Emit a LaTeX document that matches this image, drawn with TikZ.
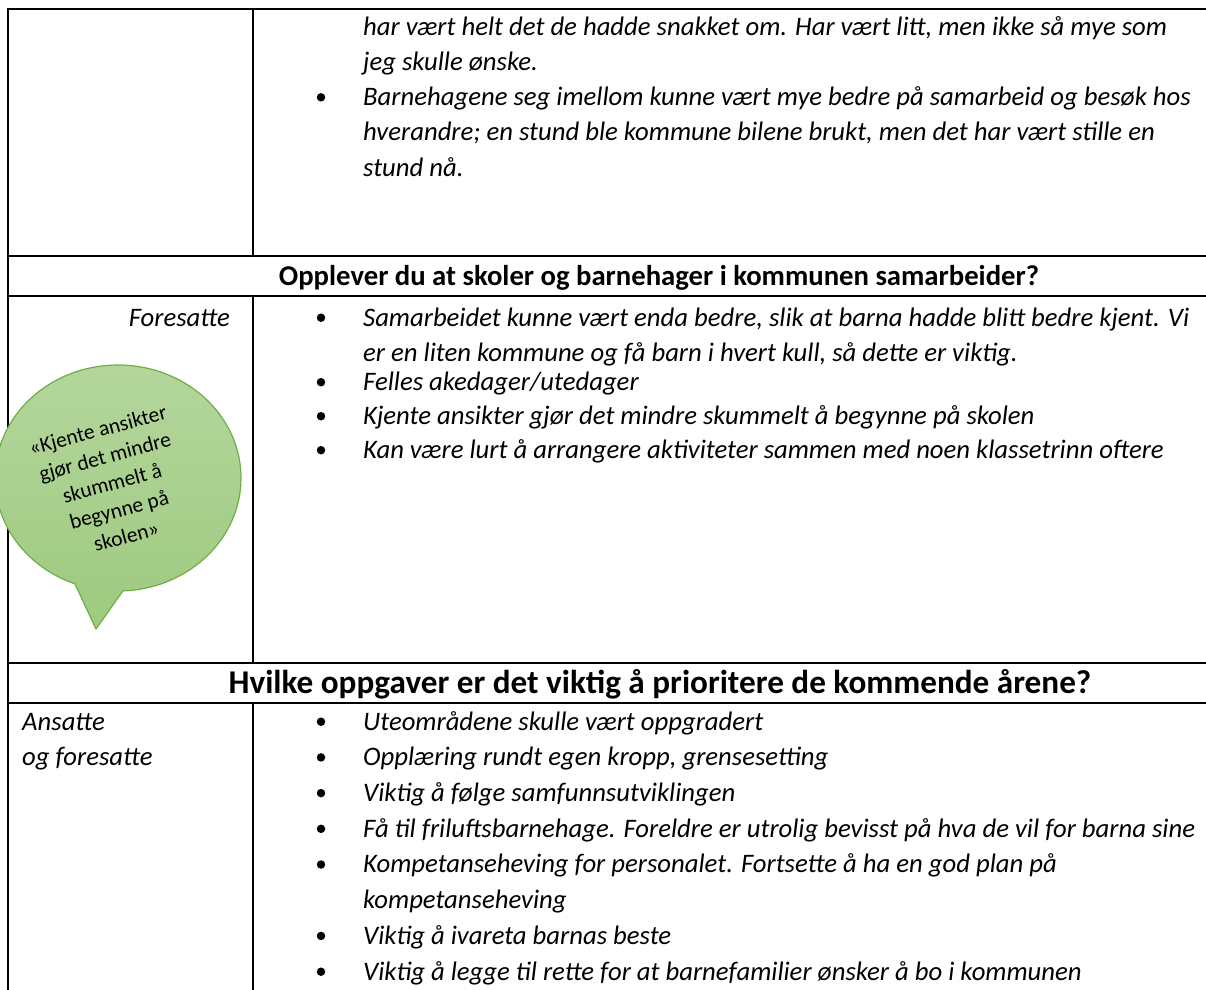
\documentclass[tikz,border=0pt]{standalone}
\usepackage{fontspec}
\setmainfont{Carlito}
\definecolor{bubtop}{RGB}{180,214,156}
\definecolor{bubbot}{RGB}{158,202,128}
\definecolor{bubline}{RGB}{112,173,71}
\begin{document}
\begin{tikzpicture}[x=1pt,y=-1pt,
  txt/.style={anchor=base west, inner sep=0pt, font=\fontsize{26.7}{35}\selectfont\itshape},
  txtr/.style={anchor=base east, inner sep=0pt, font=\fontsize{26.7}{35}\selectfont\itshape},
  hdr/.style={anchor=base, inner sep=0pt, font=\fontsize{28.7}{35}\selectfont\bfseries},
  hdrbig/.style={anchor=base, inner sep=0pt, font=\fontsize{33.2}{38}\selectfont\bfseries},
  bul/.style={circle, fill=black, inner sep=0pt, minimum size=8.5pt},
  grid/.style={line width=2.5pt, line cap=rect},
  bubble/.style={top color=bubtop, bottom color=bubbot, draw=bubline, line width=1.2pt, line join=round},
  bubtxt/.style={align=center, inner sep=0pt, rotate=15, font=\fontsize{21.5}{27.5}\selectfont}]
\useasboundingbox (0,0) rectangle (1206,989);
% table grid
\draw[grid] (8,9) -- (1210,9);
\draw[grid] (8,256) -- (1210,256);
\draw[grid] (8,296) -- (1210,296);
\draw[grid] (8,663) -- (1210,663);
\draw[grid] (8,703) -- (1210,703);
\draw[grid] (8,9) -- (8,995);
\draw[grid] (253,9) -- (253,256);
\draw[grid] (253,296) -- (253,663);
\draw[grid] (253,703) -- (253,995);
% row 1
\node[txt] (r1a) at (363,35) {har vært helt det de hadde snakket om. Har vært litt, men ikke så mye som};
\node[txt] (r1b) at (363,70.3) {jeg skulle ønske.};
\node[bul] (b1c) at (321,97.3) {};
\node[txt] (r1c) at (363,105.6) {Barnehagene seg imellom kunne vært mye bedre på samarbeid og besøk hos};
\node[txt] (r1d) at (363,140.9) {hverandre; en stund ble kommune bilene brukt, men det har vært stille en};
\node[txt] (r1e) at (363,176.2) {stund nå.};
% header 1
\node[hdr] (h1) at (659,285) {Opplever du at skoler og barnehager i kommunen samarbeider?};
% row 2
\node[txtr] (who2) at (230,326) {Foresatte};
\node[bul] (b2a) at (321,317.7) {};
\node[txt] (r2a) at (363,326) {Samarbeidet kunne vært enda bedre, slik at barna hadde blitt bedre kjent. Vi};
\node[txt] (r2b) at (363,361) {er en liten kommune og få barn i hvert kull, så dette er viktig.};
\node[bul] (b2c) at (321,382.2) {};
\node[txt] (r2c) at (363,390.5) {Felles akedager/utedager};
\node[bul] (b2d) at (321,416.2) {};
\node[txt] (r2d) at (363,424.5) {Kjente ansikter gjør det mindre skummelt å begynne på skolen};
\node[bul] (b2e) at (321,450.2) {};
\node[txt] (r2e) at (363,458.5) {Kan være lurt å arrangere aktiviteter sammen med noen klassetrinn oftere};
% header 2
\node[hdrbig] (h2) at (660,693.5) {Hvilke oppgaver er det viktig å prioritere de kommende årene?};
% row 3
\node[txt] (who3a) at (22,730) {Ansatte};
\node[txt] (who3b) at (22,765.7) {og foresatte};
\node[bul] (b3a) at (321,721.7) {};
\node[txt] (r3a) at (363,730) {Uteområdene skulle vært oppgradert};
\node[bul] (b3b) at (321,757.4) {};
\node[txt] (r3b) at (363,765.7) {Opplæring rundt egen kropp, grensesetting};
\node[bul] (b3c) at (321,793.1) {};
\node[txt] (r3c) at (363,801.4) {Viktig å følge samfunnsutviklingen};
\node[bul] (b3d) at (321,828.8) {};
\node[txt] (r3d) at (363,837.1) {Få til friluftsbarnehage. Foreldre er utrolig bevisst på hva de vil for barna sine};
\node[bul] (b3e) at (321,864.5) {};
\node[txt] (r3e) at (363,872.8) {Kompetanseheving for personalet. Fortsette å ha en god plan på};
\node[txt] (r3f) at (363,908.5) {kompetanseheving};
\node[bul] (b3g) at (321,935.9) {};
\node[txt] (r3g) at (363,944.2) {Viktig å ivareta barnas beste};
\node[bul] (b3h) at (321,971.7) {};
\node[txt] (r3h) at (363,980) {Viktig å legge til rette for at barnefamilier ønsker å bo i kommunen};
% speech bubble
\path[bubble] (118,478) ++(87.7:123 and 113)
  arc[start angle=87.7, end angle=-249.5, x radius=123, y radius=113]
  -- (96,629) -- cycle;
\node[bubtxt] (quote) at (112,483) {«Kjente ansikter\\gjør det mindre\\skummelt å\\begynne på\\skolen»};
\end{tikzpicture}
\end{document}
